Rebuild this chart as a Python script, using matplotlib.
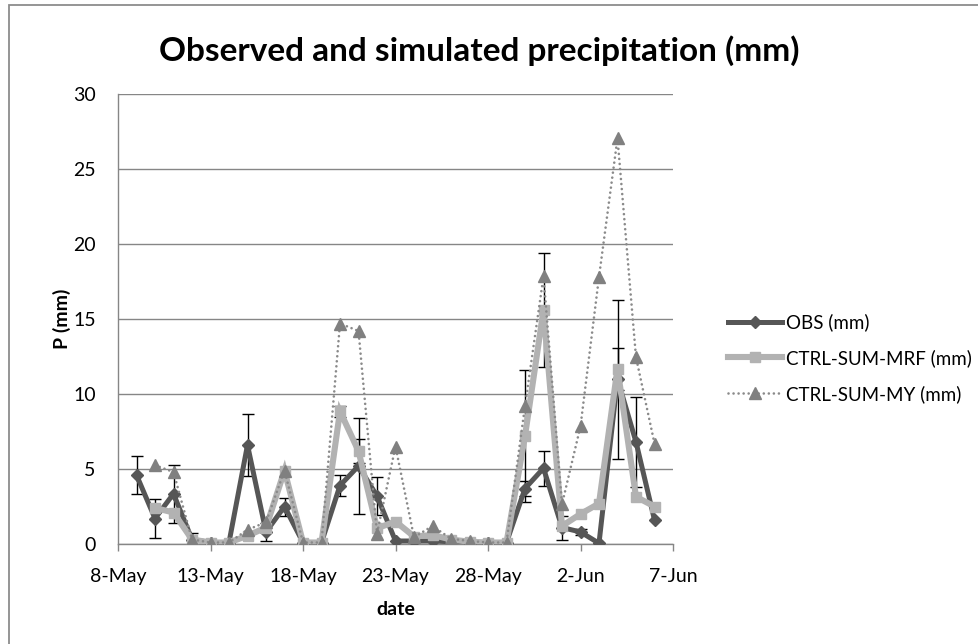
import datetime as dt
import numpy as np
import matplotlib
matplotlib.use('Agg')
import matplotlib.pyplot as plt
import matplotlib.dates as mdates
from matplotlib.patches import Rectangle

plt.rcParams['font.family'] = ['Lato', 'DejaVu Sans']

# daily values 9-May .. 6-Jun
start_day = dt.date(2013, 5, 9)
n_days = 29
dates = [start_day + dt.timedelta(days=i) for i in range(n_days)]

obs = [4.6, 1.7, 3.35, 0.3, 0.1, 0.1, 6.6, 0.8, 2.5, 0.1, 0.1, 3.9, 5.2, 3.2, 0.2,
       0.2, 0.2, 0.15, 0.1, 0.1, 0.1, 3.7, 5.05, 1.1, 0.8, 0.05, 11.0, 6.8, 1.6]
obs_err = [1.25, 1.3, 1.95, 0.45, 0, 0, 2.05, 0.6, 0.6, 0, 0, 0.7, 3.2, 1.27, 0,
           0, 0, 0, 0, 0, 0, 0.5, 1.17, 0.8, 0.2, 0, 5.3, 3.0, 0]

mrf = [np.nan, 2.4, 2.1, 0.3, 0.1, 0.1, 0.55, 1.1, 4.9, 0.1, 0.1, 8.85, 6.2, 1.05, 1.5,
       0.5, 0.6, 0.3, 0.15, 0.1, 0.1, 7.2, 15.6, 1.2, 2.0, 2.7, 11.7, 3.15, 2.5]
mrf_err = [0, 0, 0, 0, 0, 0, 0, 0, 0, 0, 0, 0.35, 0.8, 0, 0,
           0, 0, 0, 0, 0, 0, 4.4, 3.8, 0, 0, 0, 1.4, 0, 0]

my = [np.nan, 5.25, 4.8, 0.3, 0.1, 0.1, 0.95, 1.45, 4.9, 0.1, 0.1, 14.7, 14.2, 0.7, 6.5,
      0.45, 1.2, 0.35, 0.2, 0.1, 0.1, 9.2, 17.85, 2.65, 7.85, 17.8, 27.05, 12.45, 6.7]

labels = ['OBS (mm)', 'CTRL-SUM-MRF (mm)', 'CTRL-SUM-MY (mm)']

fig = plt.figure(figsize=(9.79, 6.44), dpi=100)
ax = fig.add_axes([118 / 979, 1 - 544 / 644, (673 - 118) / 979, (544 - 94) / 644])

grid_col = '#868686'

# error bars (only where there is one)
for vals, errs in [(obs, obs_err), (mrf, mrf_err)]:
    idx = [i for i, e in enumerate(errs) if e > 0]
    ax.errorbar([dates[i] for i in idx], [vals[i] for i in idx],
                yerr=[errs[i] for i in idx], fmt='none', ecolor='black',
                elinewidth=1.0, capsize=4, capthick=1.0, zorder=2)

ax.plot(dates, obs, color='#565656', lw=3.6, marker='D', ms=6.5,
        solid_joinstyle='round', label=labels[0], zorder=3)
ax.plot(dates, mrf, color='#b2b2b2', lw=4.4, marker='s', ms=7.5,
        solid_joinstyle='miter', label=labels[1], zorder=4)
ax.plot(dates, my, color='#8a8a8a', lw=1.9, dashes=(0.01, 1.9), dash_capstyle='round',
        marker='^', ms=8, markerfacecolor='#808080', markeredgecolor='#808080',
        label=labels[2], zorder=5)

ax.set_xlim(dt.date(2013, 5, 8), dt.date(2013, 6, 7))
ax.set_ylim(0, 30)
ax.set_yticks(range(0, 31, 5))
ax.set_xticks([dt.date(2013, 5, 8) + dt.timedelta(days=5 * k) for k in range(7)])
ax.xaxis.set_major_formatter(mdates.DateFormatter('%-d-%b'))

ax.grid(axis='y', color=grid_col, lw=1.0)
ax.set_axisbelow(True)
for s in ['top', 'right']:
    ax.spines[s].set_visible(False)
for s in ['left', 'bottom']:
    ax.spines[s].set_color(grid_col)
    ax.spines[s].set_linewidth(1.0)
ax.tick_params(axis='y', length=0, pad=16, labelsize=14)
ax.tick_params(axis='x', length=5, width=1, color=grid_col, pad=12, labelsize=14)

ax.set_xlabel('date', fontsize=14, fontweight='bold')
ax.set_ylabel('P (mm)', fontsize=14, fontweight='bold')
ax.xaxis.set_label_coords(0.5, -(601 - 544) / 450)
ax.yaxis.set_label_coords((71 - 118) / 555, 0.5)

fig.text(0.49, 0.922, 'Observed and simulated precipitation (mm)', ha='center', va='center',
         fontsize=24, fontweight='bold')

fig.legend(loc='center left', bbox_to_anchor=(728 / 979, 1 - 358 / 644), frameon=False,
           fontsize=13.5, handlelength=2.9, handletextpad=0.2, labelspacing=0.95,
           borderaxespad=0, borderpad=0)

fig.patches.append(Rectangle((9 / 979, -0.05), 1.2, 1 - 5 / 644 + 0.05, transform=fig.transFigure,
                             fill=False, edgecolor='#8c8c8c', lw=1.3))

fig.savefig('out.png', dpi=100)
